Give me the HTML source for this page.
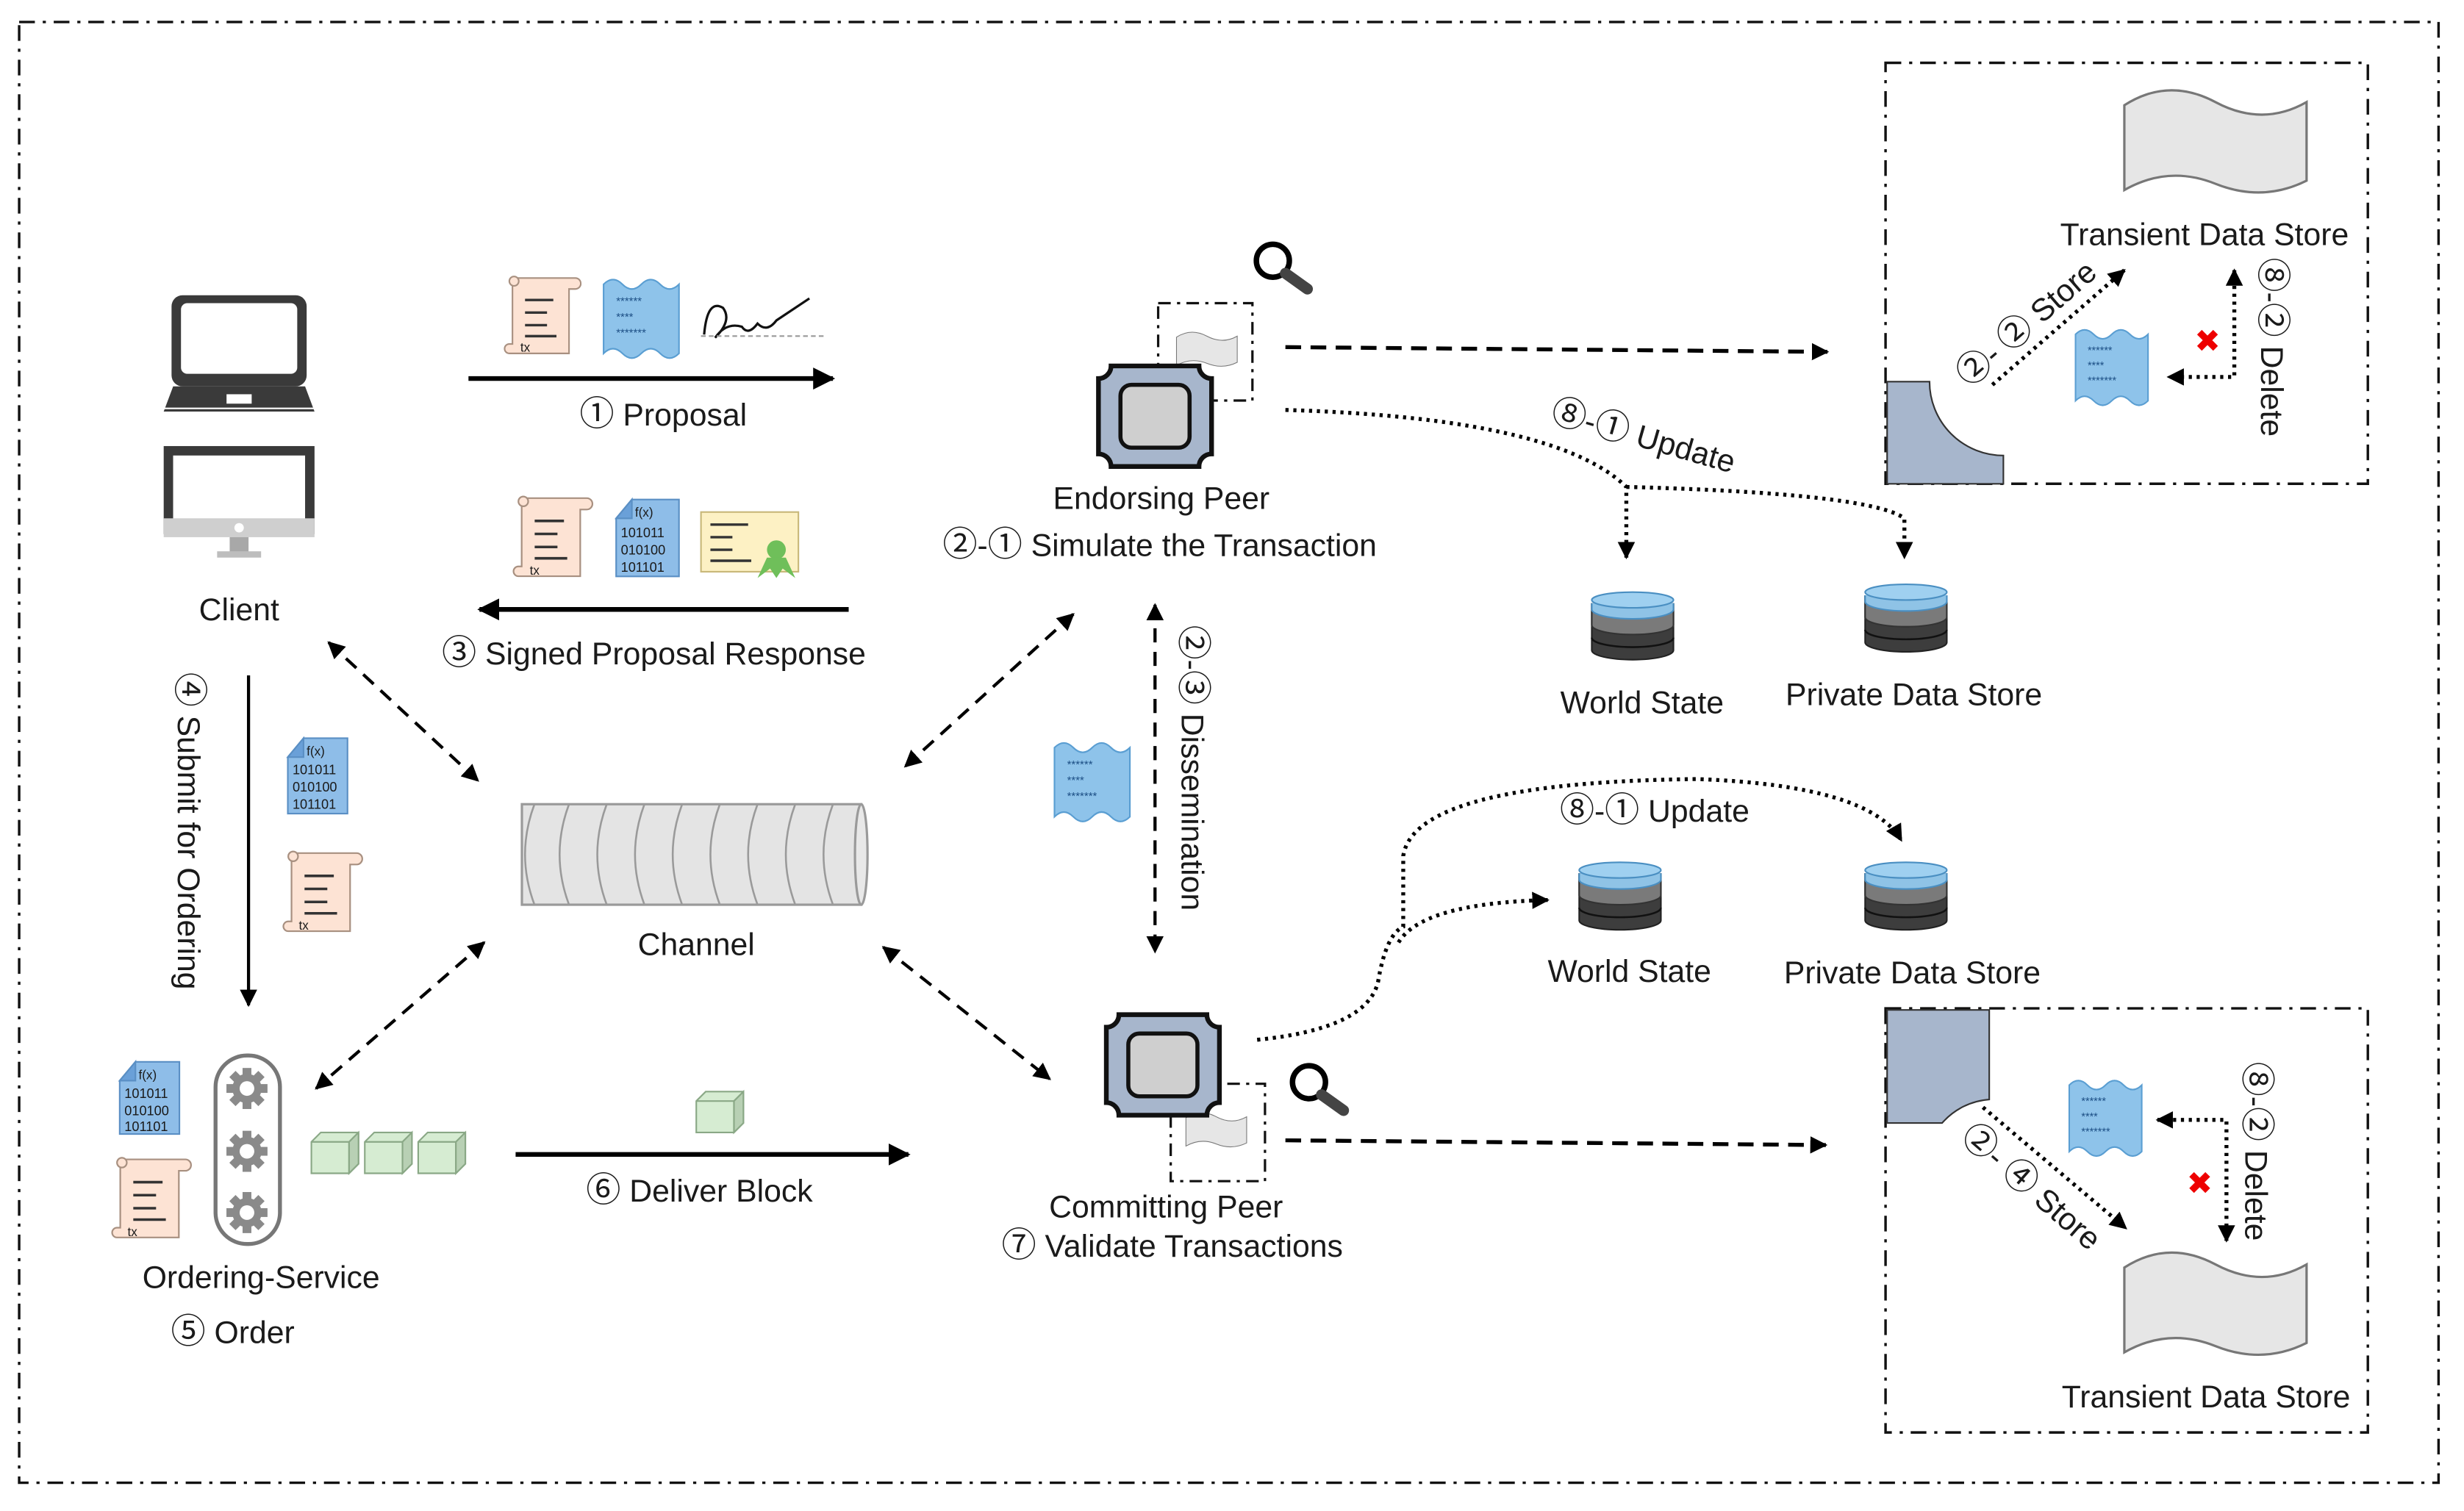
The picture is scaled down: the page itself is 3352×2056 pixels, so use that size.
<!DOCTYPE html>
<html><head><meta charset="utf-8"><style>
html,body{margin:0;padding:0;background:#fff;width:3352px;height:2056px;overflow:hidden}
svg{display:block}
text{font-family:"Liberation Sans","Noto Sans CJK SC",sans-serif;fill:#1a1a1a}
.c{font-family:"Noto Sans CJK SC","Noto Sans CJK JP",sans-serif;font-size:22px}
</style></head><body>
<svg width="3352" height="2056" viewBox="0 0 1568 962" xmlns="http://www.w3.org/2000/svg">
<defs>
<marker id="ah" viewBox="0 0 10 10" refX="9" refY="5" markerWidth="6" markerHeight="6" orient="auto-start-reverse" markerUnits="userSpaceOnUse"><path d="M0,0 L10,5 L0,10z" fill="#000"/></marker>
<marker id="ahb" viewBox="0 0 10 10" refX="9" refY="5" markerWidth="14" markerHeight="14" orient="auto-start-reverse" markerUnits="userSpaceOnUse"><path d="M0,0 L10,5 L0,10z" fill="#000"/></marker>
<marker id="ahm" viewBox="0 0 10 10" refX="9" refY="5" markerWidth="11" markerHeight="11" orient="auto-start-reverse" markerUnits="userSpaceOnUse"><path d="M0,0 L10,5 L0,10z" fill="#000"/></marker>
<symbol id="scroll" viewBox="0 0 52 56">
<path d="M8,4 H48 a3,3 0 0 1 0,7 H44 V52 H6 a3,3 0 0 1 0,-6 H8 Z" fill="#fde3d4" stroke="#a89080" stroke-width="1"/>
<circle cx="9" cy="6" r="3" fill="#fde3d4" stroke="#a89080" stroke-width="1"/>
<line x1="16" y1="18" x2="34" y2="18" stroke="#333" stroke-width="1.6"/>
<line x1="16" y1="26" x2="30" y2="26" stroke="#333" stroke-width="1.6"/>
<line x1="16" y1="34" x2="30" y2="34" stroke="#333" stroke-width="1.6"/>
<line x1="16" y1="41" x2="36" y2="41" stroke="#333" stroke-width="1.6"/>
</symbol>
<symbol id="wave" viewBox="0 0 50 52">
<path d="M1,4 Q7,-2 13,4 T25,4 T37,4 T49,4 V48 Q43,54 37,48 T25,48 T13,48 T1,48 Z" fill="#8ec3ea" stroke="#5a9ed2" stroke-width="1"/>
<text x="9" y="17" style="font-size:7px;fill:#1d4f85">******</text>
<text x="9" y="27" style="font-size:7px;fill:#1d4f85">****</text>
<text x="9" y="37" style="font-size:7px;fill:#1d4f85">*******</text>
</symbol>
<symbol id="flag" viewBox="0 0 120 74">
<path d="M2,12 Q30,-6 60,10 T118,10 V60 Q90,74 60,62 T2,66 Z" fill="#e6e6e6" stroke="#777" stroke-width="1.5"/>
</symbol>
<symbol id="chip" viewBox="0 0 76 68">
<path d="M10,2 H66 A8,8 0 0 0 74,10 V58 A8,8 0 0 0 66,66 H10 A8,8 0 0 0 2,58 V10 A8,8 0 0 0 10,2 Z" fill="#a7b6cc" stroke="#111" stroke-width="3"/>
<rect x="16" y="14" width="44" height="40" rx="7" fill="#cfcfcf" stroke="#111" stroke-width="2.6"/>
</symbol>
<symbol id="db" viewBox="0 0 54 46">
<path d="M1,8 V38 A26,6 0 0 0 53,38 V8" fill="#3d3d3d" stroke="#222"/>
<path d="M1,8 V22 A26,6 0 0 0 53,22 V8" fill="#7a7a7a" stroke="#333"/>
<path d="M1,8 V12 A26,6 0 0 0 53,12 V8" fill="#8fc3e6" stroke="#4a8fc2"/>
<ellipse cx="27" cy="6" rx="26" ry="5" fill="#9fd0f0" stroke="#4a8fc2"/>
<path d="M1,30 A26,6 0 0 0 53,30" fill="none" stroke="#111" stroke-width="1.2"/>
</symbol>
<symbol id="cube" viewBox="0 0 34 30">
<path d="M2,8 L8,2 H32 V22 L26,28 H2 Z" fill="#d6ecd2" stroke="#8aa886"/>
<path d="M2,8 H26 V28 M26,8 L32,2" fill="none" stroke="#8aa886"/>
<path d="M26,8 L32,2 V22 L26,28 Z" fill="#b8d0b4" stroke="#8aa886"/>
</symbol>
<symbol id="mag" viewBox="0 0 42 36">
<circle cx="14" cy="13" r="10.5" fill="#fff" stroke="#000" stroke-width="3.5"/>
<line x1="22" y1="21" x2="36" y2="31" stroke="#444" stroke-width="7" stroke-linecap="round"/>
</symbol>
<symbol id="gear" viewBox="0 0 30 30">
<g fill="#8a8a8a"><circle cx="15" cy="15" r="10"/>
<rect x="12" y="1" width="6" height="28"/><rect x="1" y="12" width="28" height="6"/>
<rect x="12" y="1" width="6" height="28" transform="rotate(45 15 15)"/><rect x="12" y="1" width="6" height="28" transform="rotate(-45 15 15)"/></g>
<circle cx="15" cy="15" r="5" fill="#fff"/>
</symbol>
</defs>

<rect x="12" y="14" width="1540" height="930" fill="none" stroke="#111" stroke-width="1.6" stroke-dasharray="10,5,2,5"/>
<rect x="1200" y="40" width="307" height="268" fill="none" stroke="#111" stroke-width="1.6" stroke-dasharray="10,5,2,5"/>
<rect x="1200" y="642" width="307" height="270" fill="none" stroke="#111" stroke-width="1.6" stroke-dasharray="10,5,2,5"/>

<rect x="109" y="188" width="86" height="58" rx="7" fill="#3a3a3a"/>
<rect x="115" y="193" width="74" height="45" rx="4" fill="#fff"/>
<path d="M110,246 H194 L200,262 H104 Z" fill="#3a3a3a"/>
<rect x="144" y="251" width="16" height="6" fill="#fff"/>
<line x1="104" y1="260" x2="200" y2="260" stroke="#fff" stroke-width="1"/>
<rect x="104" y="284" width="96" height="56" fill="#3a3a3a"/>
<rect x="110" y="290" width="84" height="44" fill="#fff"/>
<rect x="104" y="330" width="96" height="12" fill="#cfcfcf"/>
<circle cx="152" cy="336" r="3" fill="#fff"/>
<rect x="146" y="342" width="12" height="10" fill="#a8a8a8"/>
<rect x="138" y="351" width="28" height="4" fill="#bdbdbd"/>
<text x="152" y="395" font-size="20" text-anchor="middle">Client</text>

<use href="#scroll" x="318" y="173" width="52" height="56"/>
<text x="331" y="224" font-size="8" fill="#555">tx</text>
<use href="#wave" x="383" y="177" width="50" height="52"/>
<path d="M448,213 Q450,190 460,196 Q466,204 455,215 Q462,205 472,208 Q476,214 482,206 Q488,212 494,204 L515,190" fill="none" stroke="#111" stroke-width="1.5"/>
<line x1="446" y1="214" x2="525" y2="214" stroke="#999" stroke-width="1" stroke-dasharray="3,2"/>
<line x1="298" y1="241" x2="530" y2="241" stroke="#000" stroke-width="3" marker-end="url(#ahb)"/>
<text x="422" y="271" font-size="20" text-anchor="middle"><tspan class="c">①</tspan> Proposal</text>

<use href="#scroll" x="323" y="313" width="55" height="58"/>
<text x="337" y="366" font-size="8" fill="#555">tx</text>
<path d="M402,318 H432 V367 H392 V330 Z" fill="#8ebde8" stroke="#5a8fc4"/>
<path d="M392,330 L402,318 V330 Z" fill="#6aa0d8" stroke="#5a8fc4"/>
<text x="404" y="329" font-size="8">f(x)</text>
<text x="395" y="342" font-size="8.5" fill="#555">101011</text>
<text x="395" y="353" font-size="8.5" fill="#555">010100</text>
<text x="395" y="364" font-size="8.5" fill="#555">101101</text>
<rect x="446" y="326" width="62" height="38" fill="#fdf1c4" stroke="#c9b87a"/>
<line x1="452" y1="334" x2="476" y2="334" stroke="#333" stroke-width="1.6"/>
<line x1="452" y1="342" x2="466" y2="342" stroke="#333" stroke-width="1.6"/>
<line x1="452" y1="350" x2="466" y2="350" stroke="#333" stroke-width="1.6"/>
<line x1="452" y1="357" x2="478" y2="357" stroke="#333" stroke-width="1.6"/>
<circle cx="494" cy="350" r="6" fill="#6fbf5a"/>
<path d="M482,368 L488,355 H500 L506,368 L498,362 L494,368 L490,362 Z" fill="#6fbf5a"/>
<line x1="540" y1="388" x2="305" y2="388" stroke="#000" stroke-width="3" marker-end="url(#ahb)"/>
<text x="416" y="423" font-size="20" text-anchor="middle"><tspan class="c">③</tspan> Signed Proposal Response</text>

<line x1="158" y1="430" x2="158" y2="640" stroke="#000" stroke-width="2" marker-end="url(#ahm)"/>
<text transform="translate(113,428) rotate(90)" font-size="20"><tspan class="c">④</tspan> Submit for Ordering</text>
<path d="M193,470 H221 V518 H183 V482 Z" fill="#8ebde8" stroke="#5a8fc4"/>
<path d="M183,482 L193,470 V482 Z" fill="#6aa0d8" stroke="#5a8fc4"/>
<text x="195" y="481" font-size="8">f(x)</text>
<text x="186" y="493" font-size="8.5" fill="#555">101011</text>
<text x="186" y="504" font-size="8.5" fill="#555">010100</text>
<text x="186" y="515" font-size="8.5" fill="#555">101101</text>
<use href="#scroll" x="176" y="539" width="56" height="58"/>
<text x="190" y="592" font-size="8" fill="#555">tx</text>

<path d="M86,676 H114 V722 H76 V688 Z" fill="#8ebde8" stroke="#5a8fc4"/>
<path d="M76,688 L86,676 V688 Z" fill="#6aa0d8" stroke="#5a8fc4"/>
<text x="88" y="687" font-size="8">f(x)</text>
<text x="79" y="699" font-size="8.5" fill="#555">101011</text>
<text x="79" y="710" font-size="8.5" fill="#555">010100</text>
<text x="79" y="720" font-size="8.5" fill="#555">101101</text>
<use href="#scroll" x="66" y="734" width="58" height="58"/>
<text x="81" y="787" font-size="8" fill="#555">tx</text>
<rect x="137" y="672" width="41" height="120" rx="20" fill="#fff" stroke="#777" stroke-width="2.5"/>
<use href="#gear" x="143" y="679" width="28" height="28"/>
<use href="#gear" x="143" y="719" width="28" height="28"/>
<use href="#gear" x="143" y="758" width="28" height="28"/>
<use href="#cube" x="196" y="719" width="34" height="30"/>
<use href="#cube" x="230" y="719" width="34" height="30"/>
<use href="#cube" x="264" y="719" width="34" height="30"/>
<text x="166" y="820" font-size="20" text-anchor="middle">Ordering-Service</text>
<text x="148" y="855" font-size="20" text-anchor="middle"><tspan class="c">⑤</tspan> Order</text>

<use href="#cube" x="441" y="693" width="34" height="30"/>
<line x1="328" y1="735" x2="578" y2="735" stroke="#000" stroke-width="3" marker-end="url(#ahb)"/>
<text x="445" y="765" font-size="20" text-anchor="middle"><tspan class="c">⑥</tspan> Deliver Block</text>

<rect x="332" y="512" width="216" height="64" fill="#e4e4e4" stroke="#9a9a9a" stroke-width="1.5"/>
<ellipse cx="548" cy="544" rx="4" ry="32" fill="#e8e8e8" stroke="#9a9a9a" stroke-width="1.5"/>
<g fill="none" stroke="#9a9a9a" stroke-width="1.2">
<path d="M340,512 Q328,544 340,576"/><path d="M362,512 Q350,544 362,576"/><path d="M386,512 Q374,544 386,576"/><path d="M410,512 Q398,544 410,576"/><path d="M434,512 Q422,544 434,576"/><path d="M458,512 Q446,544 458,576"/><path d="M482,512 Q470,544 482,576"/><path d="M506,512 Q494,544 506,576"/><path d="M530,512 Q518,544 530,576"/>
</g>
<text x="443" y="608" font-size="20" text-anchor="middle">Channel</text>

<g stroke="#000" stroke-width="2" stroke-dasharray="9,6" fill="none">
<line x1="209" y1="409" x2="304" y2="497" marker-start="url(#ahm)" marker-end="url(#ahm)"/>
<line x1="683" y1="391" x2="576" y2="488" marker-start="url(#ahm)" marker-end="url(#ahm)"/>
<line x1="308" y1="600" x2="201" y2="693" marker-start="url(#ahm)" marker-end="url(#ahm)"/>
<line x1="562" y1="603" x2="668" y2="687" marker-start="url(#ahm)" marker-end="url(#ahm)"/>
<line x1="735" y1="385" x2="735" y2="606" marker-start="url(#ahm)" marker-end="url(#ahm)"/>
</g>
<text transform="translate(752,398) rotate(90)" font-size="20"><tspan class="c">②</tspan>-<tspan class="c">③</tspan> Dissemination</text>
<use href="#wave" x="670" y="472" width="50" height="52"/>

<rect x="737" y="193" width="60" height="62" fill="none" stroke="#111" stroke-width="1.5" stroke-dasharray="8,4,2,4"/>
<use href="#flag" x="748" y="205" width="40" height="36"/>
<use href="#chip" x="697" y="231" width="76" height="68"/>
<use href="#mag" x="796" y="153" width="42" height="36"/>
<text x="739" y="324" font-size="20" text-anchor="middle">Endorsing Peer</text>
<text x="738" y="354" font-size="20" text-anchor="middle"><tspan class="c">②</tspan>-<tspan class="c">①</tspan> Simulate the Transaction</text>
<line x1="818" y1="221" x2="1163" y2="224" stroke="#000" stroke-width="2.5" stroke-dasharray="10,6" marker-end="url(#ahm)"/>
<g fill="none" stroke="#000" stroke-width="2.5" stroke-dasharray="2,3">
<path d="M818,261 Q990,266 1035,310 V355" marker-end="url(#ahm)"/>
<path d="M1035,310 Q1190,314 1212,330 V355" marker-end="url(#ahm)"/>
</g>
<text transform="translate(986,268) rotate(16)" font-size="20"><tspan class="c">⑧</tspan>-<tspan class="c">①</tspan> Update</text>
<use href="#db" x="1012" y="376" width="54" height="46"/>
<text x="1045" y="454" font-size="20" text-anchor="middle">World State</text>
<use href="#db" x="1186" y="371" width="54" height="46"/>
<text x="1218" y="449" font-size="20" text-anchor="middle">Private Data Store</text>

<use href="#flag" x="1350" y="55" width="120" height="74"/>
<text x="1403" y="156" font-size="20" text-anchor="middle">Transient Data Store</text>
<path d="M1201,243 H1228 A47,47 0 0 0 1275,290 V308 H1201 Z" fill="#a7b6cc" stroke="#333" stroke-width="1"/>
<line x1="1268" y1="245" x2="1352" y2="172" stroke="#000" stroke-width="2.5" stroke-dasharray="2,3" marker-end="url(#ahm)"/>
<text transform="translate(1253,247) rotate(-41)" font-size="20"><tspan class="c">②</tspan>- <tspan class="c">②</tspan> Store</text>
<use href="#wave" x="1319" y="209" width="50" height="50"/>
<text x="1405" y="224" font-size="20" text-anchor="middle" style="fill:#e00">✖</text>
<path d="M1422,172 V240 H1380" fill="none" stroke="#000" stroke-width="2.5" stroke-dasharray="2,3" marker-start="url(#ahm)" marker-end="url(#ahm)"/>
<text transform="translate(1439,164) rotate(90)" font-size="20"><tspan class="c">⑧</tspan>-<tspan class="c">②</tspan> Delete</text>

<rect x="745" y="690" width="60" height="62" fill="none" stroke="#111" stroke-width="1.5" stroke-dasharray="8,4,2,4"/>
<use href="#flag" x="754" y="702" width="40" height="36"/>
<use href="#chip" x="702" y="644" width="76" height="68"/>
<use href="#mag" x="819" y="676" width="42" height="36"/>
<text x="742" y="775" font-size="20" text-anchor="middle">Committing Peer</text>
<text x="746" y="800" font-size="20" text-anchor="middle"><tspan class="c">⑦</tspan> Validate Transactions</text>
<line x1="818" y1="726" x2="1162" y2="729" stroke="#000" stroke-width="2.5" stroke-dasharray="10,6" marker-end="url(#ahm)"/>
<g fill="none" stroke="#000" stroke-width="2.5" stroke-dasharray="2,3">
<path d="M800,662 Q870,655 877,625 Q882,595 893,590 V545 Q900,498 1080,496 Q1190,500 1210,535" marker-end="url(#ahm)"/>
<path d="M890,600 Q905,575 985,573" marker-end="url(#ahm)"/>
</g>
<text x="1053" y="523" font-size="20" text-anchor="middle"><tspan class="c">⑧</tspan>-<tspan class="c">①</tspan> Update</text>
<use href="#db" x="1004" y="548" width="54" height="46"/>
<text x="1037" y="625" font-size="20" text-anchor="middle">World State</text>
<use href="#db" x="1186" y="548" width="54" height="46"/>
<text x="1217" y="626" font-size="20" text-anchor="middle">Private Data Store</text>

<path d="M1201,643 H1266 V700 A44,44 0 0 0 1236,715 H1201 Z" fill="#a7b6cc" stroke="#333" stroke-width="1"/>
<line x1="1262" y1="705" x2="1353" y2="782" stroke="#000" stroke-width="2.5" stroke-dasharray="2,3" marker-end="url(#ahm)"/>
<text transform="translate(1247,725) rotate(41)" font-size="20"><tspan class="c">②</tspan>- <tspan class="c">④</tspan> Store</text>
<use href="#wave" x="1315" y="687" width="50" height="50"/>
<text x="1400" y="760" font-size="20" text-anchor="middle" style="fill:#e00">✖</text>
<path d="M1373,713 H1417 V790" fill="none" stroke="#000" stroke-width="2.5" stroke-dasharray="2,3" marker-start="url(#ahm)" marker-end="url(#ahm)"/>
<text transform="translate(1429,676) rotate(90)" font-size="20"><tspan class="c">⑧</tspan>-<tspan class="c">②</tspan> Delete</text>
<use href="#flag" x="1350" y="795" width="120" height="74"/>
<text x="1404" y="896" font-size="20" text-anchor="middle">Transient Data Store</text>
</svg>
</body></html>
